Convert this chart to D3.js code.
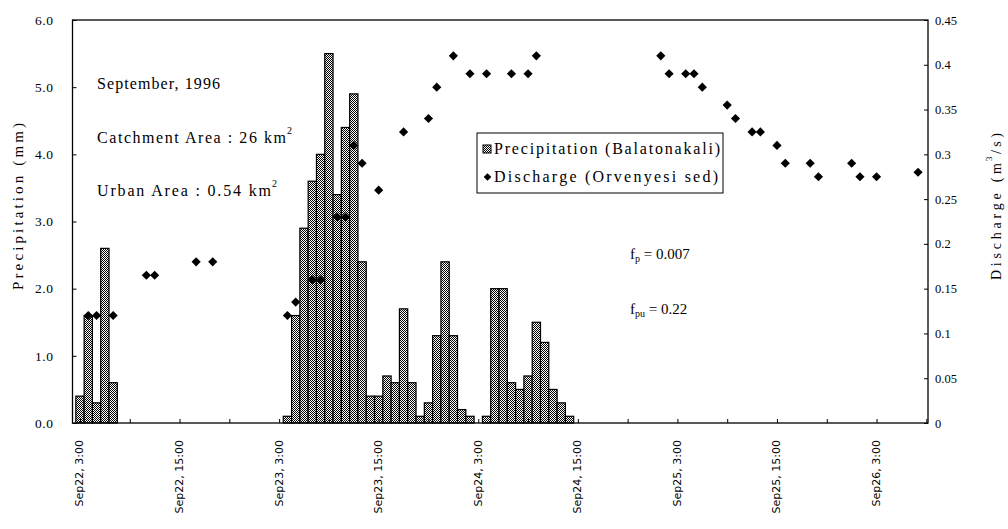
<!DOCTYPE html>
<html><head><meta charset="utf-8">
<script src="https://cdn.jsdelivr.net/npm/d3@7"></script>
<style>body{margin:0;background:#fff}svg{display:block}</style>
</head><body>
<svg id="c" width="1008" height="529"></svg>
<script>
// ---- data (hours since Sep22, 3:00) ----
const precipHours = [0,1,2,3,4, 25,26,27,28,29,30,31,32,33,34,35,36,37,38,39,40,41,42,43,44,45,46,47, 49,50,51,52,53,54,55,56,57,58,59];
const precipValues = [0.4,1.6,0.3,2.6,0.6, 0.1,1.6,2.9,3.6,4.0,5.5,3.4,4.4,4.9,2.4,0.4,0.4,0.7,0.6,1.7,0.6,0.1,0.3,1.3,2.4,1.3,0.2,0.1, 0.1,2.0,2.0,0.6,0.5,0.7,1.5,1.2,0.5,0.3,0.1];
const dischargeHours = [1,2,4, 8,9, 14,16, 25,26, 28,29, 31,32, 33,34,36, 39, 42,43,45,47,49,52,54,55, 70,71,73,74,75,78,79,81,82,84,85,88,89,93,94,96,101];
const dischargeValues = [0.12,0.12,0.12, 0.165,0.165, 0.18,0.18, 0.12,0.135, 0.16,0.16, 0.23,0.23, 0.31,0.29,0.26, 0.325, 0.34,0.375,0.41,0.39,0.39,0.39,0.39,0.41, 0.41,0.39,0.39,0.39,0.375,0.355,0.34,0.325,0.325,0.31,0.29,0.29,0.275,0.29,0.275,0.275,0.28];
const xLabelHours = [0,12,24,36,48,60,72,84,96];
const xLabels = ["Sep22, 3:00","Sep22, 15:00","Sep23, 3:00","Sep23, 15:00","Sep24, 3:00","Sep24, 15:00","Sep25, 3:00","Sep25, 15:00","Sep26, 3:00"];
const xTickHours = [0,6,12,18,24,30,36,42,48,54,60,66,72,78,84,90,96,102];
const leftTicks = [0,1,2,3,4,5,6];
const rightTicks = [0,0.05,0.1,0.15,0.2,0.25,0.3,0.35,0.4,0.45];

const svg = d3.select("#c");
const L = 72.5, R = 928, T = 20, B = 423;
const x = d3.scaleLinear().domain([-0.9, 102.2]).range([L, R]);
const yL = d3.scaleLinear().domain([0, 6]).range([B, T]);
const yR = d3.scaleLinear().domain([0, 0.45]).range([B, T]);
const bw = x(1) - x(0);
const serif = "'Liberation Serif','Times New Roman',serif";

const defs = svg.append("defs");
const pat = defs.append("pattern").attr("id","stip").attr("width",2).attr("height",2).attr("patternUnits","userSpaceOnUse");
pat.append("rect").attr("width",2).attr("height",2).attr("fill","#fff");
pat.append("rect").attr("width",1).attr("height",1).attr("fill","#000");
pat.append("rect").attr("x",1).attr("y",1).attr("width",1).attr("height",1).attr("fill","#000");

// bars
const bars = precipHours.map((h,i)=>({h, v: precipValues[i]}));
svg.append("g").selectAll("rect").data(bars).join("rect")
  .attr("x", d => x(d.h) - bw/2).attr("width", bw)
  .attr("y", d => yL(d.v)).attr("height", d => yL(0) - yL(d.v))
  .attr("fill","url(#stip)").attr("stroke","#000").attr("stroke-width",1.2);

// frame
svg.append("rect").attr("x",L).attr("y",T).attr("width",R-L).attr("height",B-T)
  .attr("fill","none").attr("stroke","#000").attr("stroke-width",1.3);

// axes
const gl = svg.append("g").attr("transform",`translate(${L},0)`)
  .call(d3.axisLeft(yL).tickValues(leftTicks).tickFormat(d3.format(".1f")).tickSize(-4).tickSizeOuter(0).tickPadding(19.5));
gl.select(".domain").remove();
gl.selectAll("text").attr("font-family",serif).attr("font-size",13.5).attr("fill","#000")
  .attr("textLength",18).attr("lengthAdjust","spacing");

const gr = svg.append("g").attr("transform",`translate(${R},0)`)
  .call(d3.axisRight(yR).tickValues(rightTicks).tickFormat(d => d===0 ? "0" : String(+d.toFixed(2))).tickSize(-4).tickSizeOuter(0).tickPadding(7));
gr.select(".domain").remove();
gr.selectAll("text").attr("font-family",serif).attr("font-size",12.5).attr("fill","#000");

const gx = svg.append("g").attr("transform",`translate(0,${B})`)
  .call(d3.axisBottom(x).tickValues(xTickHours).tickFormat("").tickSize(-4).tickSizeOuter(0));
gx.select(".domain").remove();

svg.append("g").selectAll("text").data(xLabelHours).join("text")
  .attr("transform", (d) => `translate(${x(d)+3.5},440) rotate(-90)`)
  .attr("text-anchor","end").attr("font-family","'DejaVu Sans',Verdana,sans-serif").attr("font-size",11)
  .text((d,i) => xLabels[i]);

// discharge markers
const pts = dischargeHours.map((h,i)=>({h, v: dischargeValues[i]}));
const diamond = d3.symbol(d3.symbolSquare, 42)();
svg.append("g").selectAll("path").data(pts).join("path")
  .attr("d", diamond).attr("transform", d => `translate(${x(d.h)},${yR(d.v)}) rotate(45)`)
  .attr("fill","#000");

// axis titles
svg.append("text").attr("transform","translate(23,290) rotate(-90)")
  .attr("font-family",serif).attr("font-size",15)
  .attr("textLength",167).attr("lengthAdjust","spacing").text("Precipitation (mm)");
const rt = svg.append("g").attr("transform","translate(1000.5,280) rotate(-90)").attr("font-family",serif);
rt.append("text").attr("x",0).attr("font-size",14).attr("textLength",117).attr("lengthAdjust","spacing").text("Discharge (m");
rt.append("text").attr("x",119).attr("y",-9).attr("font-size",9).text("3");
rt.append("text").attr("x",126).attr("font-size",14).attr("textLength",21).attr("lengthAdjust","spacing").text("/s)");

// annotations
function ann(s, xx, yy, len, fs) {
  return svg.append("text").attr("x",xx).attr("y",yy).attr("font-family",serif).attr("font-size",fs||16)
    .attr("textLength",len).attr("lengthAdjust","spacing").text(s);
}
ann("September, 1996", 97, 89, 123);
ann("Catchment Area : 26 km", 97, 143, 189);
svg.append("text").attr("x",287).attr("y",134).attr("font-family",serif).attr("font-size",10).text("2");
ann("Urban Area :  0.54 km", 97, 196, 174);
svg.append("text").attr("x",272).attr("y",187).attr("font-family",serif).attr("font-size",10).text("2");

const fp = svg.append("text").attr("x",630).attr("y",259).attr("font-family",serif).attr("font-size",15);
fp.append("tspan").text("f");
fp.append("tspan").attr("font-size",10).attr("dy",3).text("p");
fp.append("tspan").attr("dy",-3).text(" = 0.007");
const fpu = svg.append("text").attr("x",630).attr("y",314).attr("font-family",serif).attr("font-size",15);
fpu.append("tspan").text("f");
fpu.append("tspan").attr("font-size",10).attr("dy",3).text("pu");
fpu.append("tspan").attr("dy",-3).text(" = 0.22");

// legend
svg.append("rect").attr("x",477).attr("y",133).attr("width",246).attr("height",60)
  .attr("fill","#fff").attr("stroke","#000").attr("stroke-width",1);
svg.append("rect").attr("x",483).attr("y",145).attr("width",8).attr("height",8)
  .attr("fill","url(#stip)").attr("stroke","#000").attr("stroke-width",1);
svg.append("path").attr("d", d3.symbol(d3.symbolSquare, 30)()).attr("transform","translate(487.5,177) rotate(45)").attr("fill","#000");
ann("Precipitation (Balatonakali)", 494, 154, 226);
ann("Discharge (Orvenyesi sed)", 494, 182, 224);
</script>
</body></html>
